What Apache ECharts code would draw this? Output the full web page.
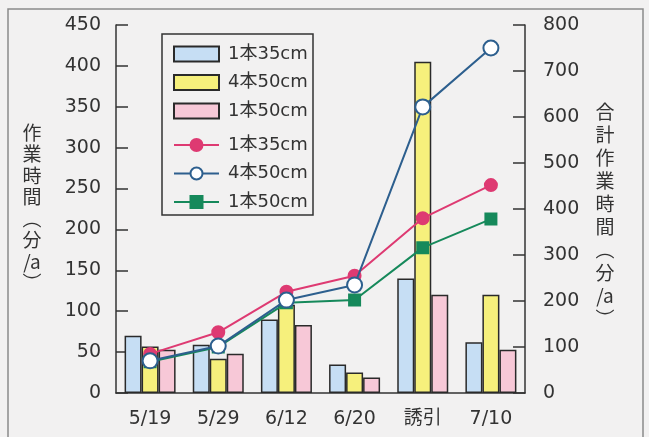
<!doctype html>
<html>
<head>
<meta charset="UTF-8">
<title></title>
<script src="https://cdn.jsdelivr.net/npm/echarts@6/dist/echarts.min.js"></script>
<style>
	html, body { margin: 0; padding: 0; background: #f2f1f1; }
	#main { width: 649px; height: 437px; }
</style>
</head>
<body>
<div id="main"></div>
<script>
	var dates = ['5/19', '5/29', '6/12', '6/20', '誘引', '7/10'];
	// 作業時間 (左軸, 分/a)
	var bar35 = [70, 59, 90, 35, 140, 62];
	var bar4x50 = [57, 42, 108, 25, 405, 120];
	var bar50 = [53, 48, 83, 19, 120, 53];
	// 合計作業時間 (右軸, 分/a)
	var sum35 = [85, 132, 220, 255, 380, 452];
	var sum4x50 = [70, 102, 202, 235, 622, 750];
	var sum50 = [68, 100, 196, 202, 316, 378];

	var font = '"DejaVu Sans", "Noto Sans CJK JP", sans-serif';
	var cjk = '"Noto Sans CJK JP", sans-serif';
	var ink = '#333';

	function barSeries(name, data, color) {
		return {
			name: name,
			type: 'bar',
			barWidth: 17,
			barGap: '0%',
			data: data,
			itemStyle: { color: color, borderColor: '#2a2a2a', borderWidth: 1.5 }
		};
	}
	function lineSeries(name, data, color, symbol, fill, size, z) {
		return {
			name: name,
			type: 'line',
			yAxisIndex: 1,
			data: data,
			symbol: symbol,
			symbolSize: size,
			z: z,
			lineStyle: { color: color, width: 2 },
			itemStyle: { color: fill, borderColor: color, borderWidth: 2 }
		};
	}
	function legendBox(top, names, icon) {
		return {
			orient: 'vertical',
			left: 173,
			top: top,
			padding: 0,
			itemWidth: 45,
			itemHeight: 15,
			itemGap: 10.5,
			textStyle: { fontSize: 18, lineHeight: 18, color: ink, fontFamily: font, padding: [0, 0, 0, 4] },
			formatter: function (n) { return n.slice(2); },
			data: names.map(function (n) { return icon ? { name: n, icon: icon } : n; })
		};
	}

	var chart = echarts.init(document.getElementById('main'));
	chart.setOption({
		backgroundColor: '#f2f1f1',
		animation: false,
		textStyle: { fontFamily: font },
		grid: { left: 116, right: 124, top: 25, bottom: 44 },
		legend: [
			legendBox(45, ['b:1本35cm', 'c:4本50cm', 'd:1本50cm'], 'rect'),
			legendBox(136, ['l:1本35cm', 'm:4本50cm', 'n:1本50cm'])
		],
		xAxis: {
			type: 'category',
			data: dates,
			axisLine: { lineStyle: { color: ink, width: 1.5 } },
			axisTick: { inside: true, length: 8, lineStyle: { color: ink, width: 1.5 } },
			axisLabel: { fontSize: 19, color: ink, margin: 17 }
		},
		yAxis: [{
			type: 'value',
			min: 0, max: 450, interval: 50,
			axisLine: { show: true, lineStyle: { color: ink, width: 1.5 } },
			axisTick: { show: true, inside: true, length: 12, lineStyle: { color: ink, width: 1.5 } },
			axisLabel: { fontSize: 19, color: ink, margin: 15 },
			splitLine: { show: false }
		}, {
			type: 'value',
			min: 0, max: 800, interval: 100,
			axisLine: { show: true, lineStyle: { color: ink, width: 1.5 } },
			axisTick: { show: true, inside: true, length: 12, lineStyle: { color: ink, width: 1.5 } },
			axisLabel: { fontSize: 19, color: ink, margin: 18 },
			splitLine: { show: false }
		}],
		graphic: [{
			type: 'rect',
			shape: { x: 8, y: 9, width: 635, height: 440 },
			style: { fill: 'none', stroke: '#8a8a8a', lineWidth: 1.5 },
			silent: true
		}, {
			type: 'rect',
			shape: { x: 162, y: 34, width: 151, height: 181 },
			style: { fill: 'none', stroke: '#333', lineWidth: 1.5 },
			silent: true
		}, {
			type: 'text',
			x: 32, y: 122,
			style: {
				text: ['作', '業', '時', '間', '︵', '分', '/a', '︶'].join('\n'),
				font: '19px ' + cjk, fill: ink, lineHeight: 21.5, align: 'center'
			}
		}, {
			type: 'text',
			x: 605, y: 100,
			style: {
				text: ['合', '計', '作', '業', '時', '間', '︵', '分', '/a', '︶'].join('\n'),
				font: '19px ' + cjk, fill: ink, lineHeight: 23, align: 'center'
			}
		}],
		series: [
			barSeries('b:1本35cm', bar35, '#c6def4'),
			barSeries('c:4本50cm', bar4x50, '#f6f07c'),
			barSeries('d:1本50cm', bar50, '#f7c8d7'),
			lineSeries('l:1本35cm', sum35, '#de3a72', 'circle', '#de3a72', 12, 3),
			lineSeries('m:4本50cm', sum4x50, '#2d5f8e', 'circle', '#ffffff', 15, 5),
			lineSeries('n:1本50cm', sum50, '#16895b', 'rect', '#16895b', 11, 4)
		]
	});
</script>
</body>
</html>
